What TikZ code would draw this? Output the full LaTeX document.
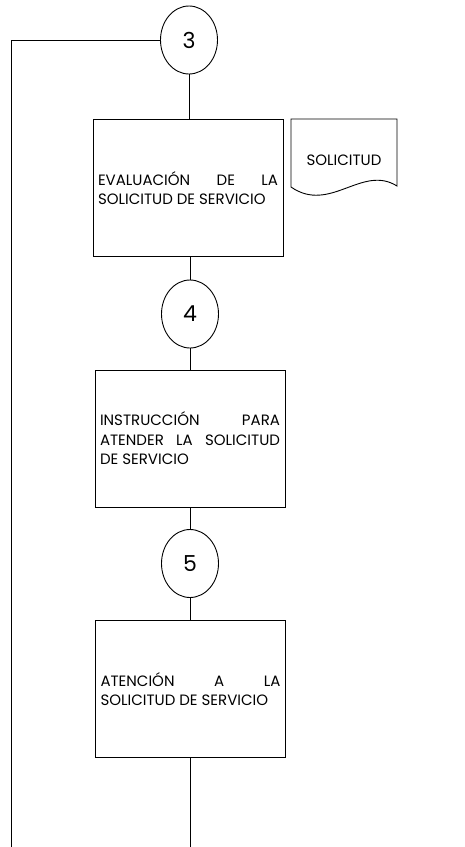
\documentclass[tikz,border=0pt]{standalone}
\usepackage{fontspec}
\setmainfont{Poppins}
\usetikzlibrary{shapes.geometric}
\tikzset{
  conn/.style={ellipse, draw, line width=0.9pt, minimum width=57pt, minimum height=68pt, inner sep=0pt, font=\fontsize{22}{24}\selectfont},
  procbox/.style={draw, line width=0.9pt, text width=180pt, inner xsep=5pt, minimum height=137pt, align=justify, font=\fontsize{15}{19.5}\selectfont},
  flow/.style={line width=0.9pt},
  doclabel/.style={font=\fontsize{15}{16}\selectfont, inner sep=0pt}
}
\begin{document}
\begin{tikzpicture}[x=1pt,y=-1pt]
  \useasboundingbox (0,0) rectangle (464,847);

  % connectors and process steps
  \node[conn] (c3) at (189,40) {3};
  \node[procbox] (b1) at (188,188) {EVALUACIÓN DE LA\linebreak SOLICITUD DE SERVICIO};
  \node[conn] (c4) at (190,314) {4};
  \node[procbox] (b2) at (190,438.5) {INSTRUCCIÓN PARA\linebreak ATENDER LA SOLICITUD\linebreak DE SERVICIO};
  \node[conn] (c5) at (190,563.5) {5};
  \node[procbox] (b3) at (190.5,689) {ATENCIÓN A LA\linebreak SOLICITUD DE SERVICIO};

  % document symbol
  \node[doclabel] (doc) at (344,160) {SOLICITUD};
  \draw[flow] (291,119) -- (397,119) -- (397,186)
    .. controls (362,164) and (330,214) .. (291,187) -- cycle;

  % links
  \coordinate (loopTop) at (11,40);
  \coordinate (loopEnd) at (11,847);
  \coordinate (outEnd) at (190,847);
  \draw[flow] (c3.west) -- (loopTop) -- (loopEnd);
  \draw[flow] (c3.south) -- (b1.north -| c3.south);
  \draw[flow] (b1.south -| c4.north) -- (c4.north);
  \draw[flow] (c4.south) -- (b2.north -| c4.south);
  \draw[flow] (b2.south -| c5.north) -- (c5.north);
  \draw[flow] (c5.south) -- (b3.north -| c5.south);
  \draw[flow] (b3.south -| outEnd) -- (outEnd);
\end{tikzpicture}
\end{document}
